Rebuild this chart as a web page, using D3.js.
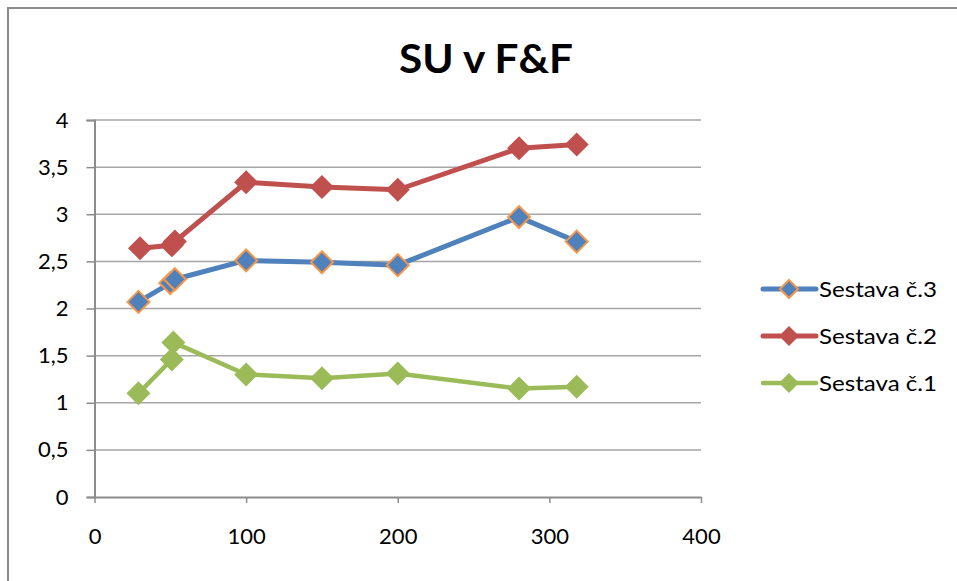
<!DOCTYPE html>
<html>
<head>
<meta charset="utf-8">
<script src="https://cdn.jsdelivr.net/npm/d3@7"></script>
<style>
  html, body { margin: 0; padding: 0; background: #fff; }
  svg { display: block; }
  text { font-family: Lato, "Open Sans", sans-serif; fill: #000; }
</style>
</head>
<body>
<script>
// Measured loads (x) and SU values per assembly
const sestava3X = [29, 50, 53, 100, 150, 200, 280, 318];
const sestava3Y = [2.07, 2.27, 2.31, 2.51, 2.49, 2.46, 2.97, 2.71];
const sestava2X = [30, 51, 53, 100, 150, 200, 280, 318];
const sestava2Y = [2.64, 2.67, 2.71, 3.34, 3.29, 3.26, 3.70, 3.74];
const sestava1X = [29, 51, 52, 100, 150, 200, 280, 318];
const sestava1Y = [1.10, 1.46, 1.64, 1.30, 1.26, 1.31, 1.15, 1.17];

const seriesNames = ["Sestava č.3", "Sestava č.2", "Sestava č.1"];
const xTicks = [0, 100, 200, 300, 400];
const yTicks = [0, 0.5, 1, 1.5, 2, 2.5, 3, 3.5, 4];
const chartTitle = "SU v F&F";

const W = 957, H = 581;
const svg = d3.select("body").append("svg").attr("width", W).attr("height", H);

// chart frame (runs off the right and bottom edges)
svg.append("path")
  .attr("d", "M8,590 L8,8 L970,8")
  .attr("fill", "none").attr("stroke", "#8c8c8c").attr("stroke-width", 2);

const x = d3.scaleLinear().domain([0, 400]).range([94.5, 701]);
const y = d3.scaleLinear().domain([0, 4]).range([497, 120]);

// horizontal gridlines
svg.append("g").selectAll("line").data(yTicks.filter(d => d > 0)).join("line")
  .attr("x1", x(0)).attr("x2", x(400))
  .attr("y1", d => y(d)).attr("y2", d => y(d))
  .attr("stroke", "#a6a6a6").attr("stroke-width", 1.5);

const fmt = d => String(d).replace(".", ",");

// y axis
const yAxis = svg.append("g").attr("transform", `translate(${x(0)},0)`)
  .call(d3.axisLeft(y).tickValues(yTicks).tickSize(8).tickPadding(18).tickFormat(fmt));
yAxis.select(".domain").attr("stroke", "#8c8c8c").attr("stroke-width", 2);
yAxis.selectAll(".tick line").attr("stroke", "#8c8c8c").attr("stroke-width", 1.5);
yAxis.selectAll(".tick text").attr("font-size", 22).attr("font-family", "Lato, sans-serif").attr("fill", "#000");

// x axis
const xAxis = svg.append("g").attr("transform", `translate(0,${y(0)})`)
  .call(d3.axisBottom(x).tickValues(xTicks).tickSize(6).tickPadding(25).tickSizeOuter(0));
xAxis.select(".domain").attr("stroke", "#8c8c8c").attr("stroke-width", 2);
xAxis.selectAll(".tick line").attr("stroke", "#8c8c8c").attr("stroke-width", 1.5);
xAxis.selectAll(".tick text").attr("font-size", 22).attr("font-family", "Lato, sans-serif").attr("fill", "#000");

// title
svg.append("text")
  .attr("x", 486).attr("y", 73).attr("text-anchor", "middle")
  .attr("font-size", 41).attr("font-weight", "bold")
  .attr("textLength", 174).attr("lengthAdjust", "spacingAndGlyphs")
  .text(chartTitle);

const series = [
  { name: seriesNames[0], xs: sestava3X, ys: sestava3Y, color: "#4f81bd", stroke: "#f79646", sw: 5, size: 13 },
  { name: seriesNames[1], xs: sestava2X, ys: sestava2Y, color: "#c0504d", stroke: null, sw: 5, size: 15 },
  { name: seriesNames[2], xs: sestava1X, ys: sestava1Y, color: "#9bbb59", stroke: null, sw: 4.5, size: 15 }
];

const line = d3.line().x(d => x(d[0])).y(d => y(d[1]));
const diamond = s => `M0,${-s}L${s},0L0,${s}L${-s},0Z`;

// draw series 1 first, series 3 on top
[...series].reverse().forEach(s => {
  const pts = s.xs.map((v, i) => [v, s.ys[i]]);
  const g = svg.append("g");
  g.append("path").datum(pts).attr("d", line)
    .attr("fill", "none").attr("stroke", s.color).attr("stroke-width", s.sw)
    .attr("stroke-linejoin", "round").attr("stroke-linecap", "round");
  g.selectAll("path.m").data(pts).join("path").attr("class", "m")
    .attr("transform", d => `translate(${x(d[0])},${y(d[1])})`)
    .attr("d", diamond(s.stroke ? s.size - 2 : s.size - 3))
    .attr("fill", s.color)
    .attr("stroke", s.stroke || "none").attr("stroke-width", 2);
});

// legend
const legY = [289, 336, 383];
series.forEach((s, i) => {
  const g = svg.append("g").attr("transform", `translate(0,${legY[i]})`);
  g.append("line").attr("x1", 763).attr("x2", 816).attr("y1", 0).attr("y2", 0)
    .attr("stroke", s.color).attr("stroke-width", s.sw).attr("stroke-linecap", "round");
  g.append("path").attr("transform", "translate(789,0)")
    .attr("d", diamond(s.stroke ? 9 : 10))
    .attr("fill", s.color).attr("stroke", s.stroke || "none").attr("stroke-width", 2);
  g.append("text").attr("x", 819).attr("y", 8).attr("font-size", 22)
    .attr("textLength", 118).attr("lengthAdjust", "spacingAndGlyphs")
    .text(s.name);
});
</script>
</body>
</html>
